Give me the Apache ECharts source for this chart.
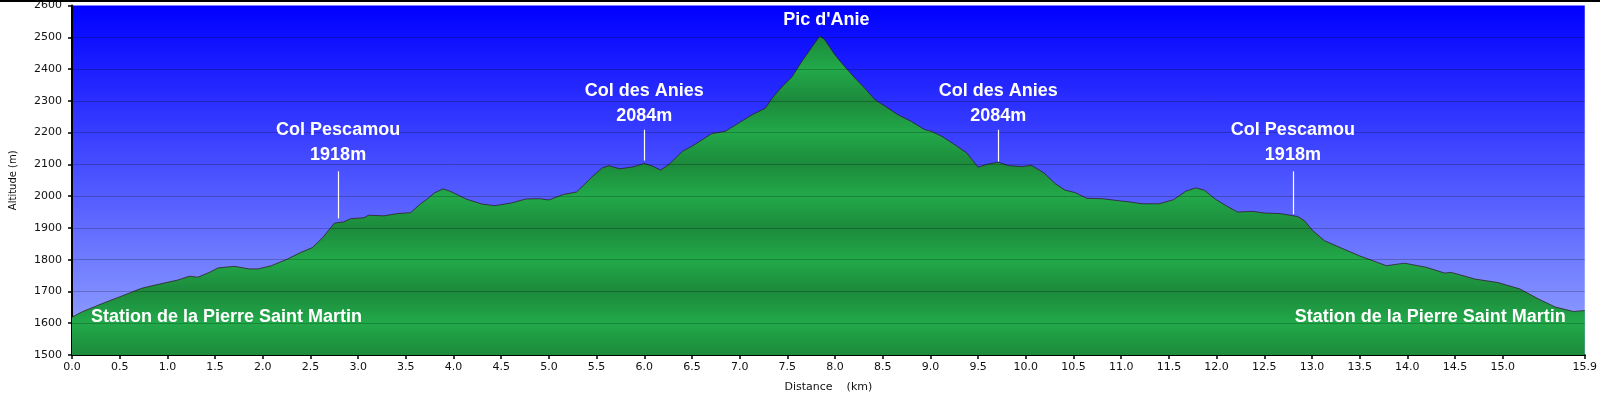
<!DOCTYPE html>
<html>
<head>
<meta charset="utf-8">
<script src="https://cdn.jsdelivr.net/npm/echarts@6/dist/echarts.min.js"></script>
<style>
  html, body { margin: 0; padding: 0; background: #ffffff; }
  #chart { width: 1600px; height: 398px; }
</style>
</head>
<body>
<div id="chart"></div>
<script>
// ---- Data ----
const distanceKm = [
  0.00, 0.10, 0.31, 0.49, 0.73, 0.87, 1.11, 1.23, 1.32, 1.44, 1.53, 1.70, 1.86, 1.95, 2.09,
  2.26, 2.40, 2.52, 2.63, 2.75, 2.85, 2.92, 3.06, 3.11, 3.27, 3.41, 3.55, 3.65, 3.72, 3.80,
  3.89, 3.96, 4.05, 4.14, 4.30, 4.43, 4.60, 4.76, 4.90, 5.00, 5.15, 5.29, 5.39, 5.46, 5.56,
  5.63, 5.74, 5.88, 6.00, 6.09, 6.17, 6.26, 6.40, 6.50, 6.71, 6.85, 6.99, 7.13, 7.27, 7.34,
  7.44, 7.55, 7.65, 7.76, 7.84, 7.89, 8.00, 8.10, 8.21, 8.31, 8.42, 8.52, 8.66, 8.80, 8.94,
  9.01, 9.12, 9.24, 9.38, 9.50, 9.59, 9.71, 9.82, 9.96, 10.06, 10.19, 10.31, 10.41, 10.52,
  10.64, 10.80, 10.99, 11.08, 11.22, 11.40, 11.55, 11.68, 11.78, 11.87, 11.99, 12.10, 12.22,
  12.38, 12.50, 12.67, 12.85, 12.92, 13.01, 13.13, 13.32, 13.50, 13.78, 13.97, 14.20, 14.39,
  14.46, 14.71, 14.95, 15.18, 15.37, 15.55, 15.74, 15.86
];
const altitudeM = [
  1619, 1635, 1661, 1682, 1710, 1720, 1736, 1748, 1745, 1760, 1774, 1779, 1771, 1771, 1781,
  1802, 1823, 1838, 1870, 1915, 1919, 1929, 1932, 1940, 1938, 1945, 1948, 1975, 1990, 2010,
  2023, 2016, 2003, 1990, 1975, 1970, 1978, 1991, 1992, 1988, 2005, 2013, 2042, 2063, 2089,
  2096, 2086, 2092, 2103, 2094, 2082, 2100, 2141, 2157, 2197, 2204, 2230, 2256, 2277, 2308,
  2343, 2376, 2423, 2470, 2504, 2493, 2444, 2408, 2371, 2340, 2303, 2284, 2256, 2235, 2209,
  2204, 2188, 2165, 2136, 2091, 2100, 2107, 2096, 2093, 2097, 2073, 2039, 2019, 2011,
  1993, 1992, 1985, 1982, 1976, 1976, 1989, 2016, 2026, 2019, 1990, 1970, 1950,
  1952, 1947, 1945, 1936, 1923, 1891, 1860, 1835, 1812, 1781, 1789, 1776, 1758,
  1760, 1739, 1728, 1708, 1677, 1651, 1637, 1640
];

// Axis scale
const yMin = 1500, yMax = 2600, yStep = 100;
const xMin = 0, xMax = 15.86, xStep = 0.5;

// Place-name annotations (text block centre in data space)
const placeLabels = [
  'Col Pescamou\n1918m', 'Col des Anies\n2084m', "Pic d'Anie", 'Col des Anies\n2084m',
  'Col Pescamou\n1918m', 'Station de la Pierre Saint Martin', 'Station de la Pierre Saint Martin'
];
const placeKm  = [2.79, 6.00, 7.91, 9.71, 12.80, 1.62, 14.24];
const placeAlt = [2168, 2292, 2554, 2292, 2168, 1620, 1620];

// White leader lines under the pass labels
const leaderKm     = [2.79, 6.00, 9.71, 12.80];
const leaderTop    = [2078, 2209, 2209, 2078];
const leaderBottom = [1930, 2112, 2109, 1943];

// ---- Build options ----
const profile = distanceKm.map((d, i) => [d, altitudeM[i]]);
const peak = Math.max(...altitudeM);

// x ticks: every 0.5 km, the one too close to the end is dropped, the end itself is kept
const xTicks = [];
for (let v = xMin; v <= xMax - 0.45; v += xStep) xTicks.push(Math.round(v * 10) / 10);
xTicks.push(xMax);

// banded green fill: bright at even hundreds, darker at odd hundreds
const bright = '#22a94a', dark = '#1c8a3b';
const bandStops = [];
for (let a = yMin; a <= Math.ceil(peak / 100) * 100; a += 100) {
  const off = (peak - a) / (peak - yMin);
  if (off < 0 || off > 1) continue;
  bandStops.push({ offset: off, color: ((a / 100) % 2 === 0) ? bright : dark });
}
bandStops.sort((p, q) => p.offset - q.offset);
if (bandStops[0].offset > 0) {
  const a0 = Math.floor(peak / 100) * 100;
  bandStops.unshift({ offset: 0, color: ((a0 / 100) % 2 === 0) ? dark : bright });
}

const gridLevels = [];
for (let a = yMin + yStep; a < yMax; a += yStep) gridLevels.push(a);

const chart = echarts.init(document.getElementById('chart'), null, { renderer: 'canvas' });

const tickFont = { fontFamily: 'DejaVu Sans', fontSize: 11, color: '#111' };

const option = {
  animation: false,
  backgroundColor: '#ffffff',
  grid: {
    left: 70, right: 11, top: 5, bottom: 42,
    show: true,
    borderWidth: 0,
    backgroundColor: new echarts.graphic.LinearGradient(0, 0, 0, 1, [
      { offset: 0, color: '#0000ff' },
      { offset: 1, color: '#9aaaff' }
    ])
  },
  graphic: [{
    type: 'rect', left: 0, top: 0, shape: { width: 1600, height: 2 },
    style: { fill: '#000' }, silent: true
  }],
  xAxis: {
    type: 'value', min: xMin, max: xMax, interval: xStep,
    name: 'Distance    (km)', nameLocation: 'middle', nameGap: 27,
    nameTextStyle: { fontFamily: 'DejaVu Sans', fontSize: 11, color: '#111' },
    axisLine: { show: true, lineStyle: { color: '#000', width: 2 } },
    axisTick: {
      show: true, length: 4, lineStyle: { color: '#000', width: 1.5 },
      customValues: xTicks
    },
    axisLabel: {
      ...tickFont, margin: 7,
      customValues: xTicks,
      formatter: v => v.toFixed(1)
    },
    splitLine: { show: false }
  },
  yAxis: {
    type: 'value', min: yMin, max: yMax, interval: yStep,
    name: 'Altitude (m)', nameLocation: 'middle', nameGap: 54, nameRotate: 90,
    nameTextStyle: { fontFamily: 'DejaVu Sans', fontSize: 10, color: '#111' },
    axisLine: { show: true, lineStyle: { color: '#000', width: 2 } },
    axisTick: { show: true, length: 4, lineStyle: { color: '#000', width: 1.5 } },
    axisLabel: { ...tickFont, margin: 10, formatter: v => String(v) },
    splitLine: { show: false }
  },
  series: [
    {
      type: 'line',
      data: profile,
      showSymbol: false,
      symbol: 'none',
      smooth: false,
      lineStyle: { color: 'rgba(50,25,35,0.75)', width: 1 },
      areaStyle: {
        opacity: 1,
        color: new echarts.graphic.LinearGradient(0, 0, 0, 1, bandStops)
      },
      z: 2,
      markLine: {
        silent: true, symbol: 'none', animation: false,
        label: { show: false },
        lineStyle: { color: 'rgba(0,0,0,0.22)', width: 1, type: 'solid' },
        data: gridLevels.map(a => ({ yAxis: a }))
      }
    },
    {
      type: 'scatter',
      data: placeLabels.map((t, i) => [placeKm[i], placeAlt[i], t]),
      symbolSize: 0,
      itemStyle: { opacity: 1 },
      z: 5,
      label: {
        show: true, position: 'inside', opacity: 1,
        formatter: p => p.data[2],
        color: '#ffffff', fontWeight: 'bold', fontSize: 18,
        fontFamily: 'Liberation Sans', lineHeight: 25, align: 'center'
      },
      markLine: {
        silent: true, symbol: 'none', animation: false,
        label: { show: false },
        lineStyle: { color: '#ffffff', width: 1.2, type: 'solid', opacity: 1 },
        data: leaderKm.map((k, i) => [
          { coord: [k, leaderTop[i]] }, { coord: [k, leaderBottom[i]] }
        ])
      }
    }
  ]
};

chart.setOption(option);
</script>
</body>
</html>
